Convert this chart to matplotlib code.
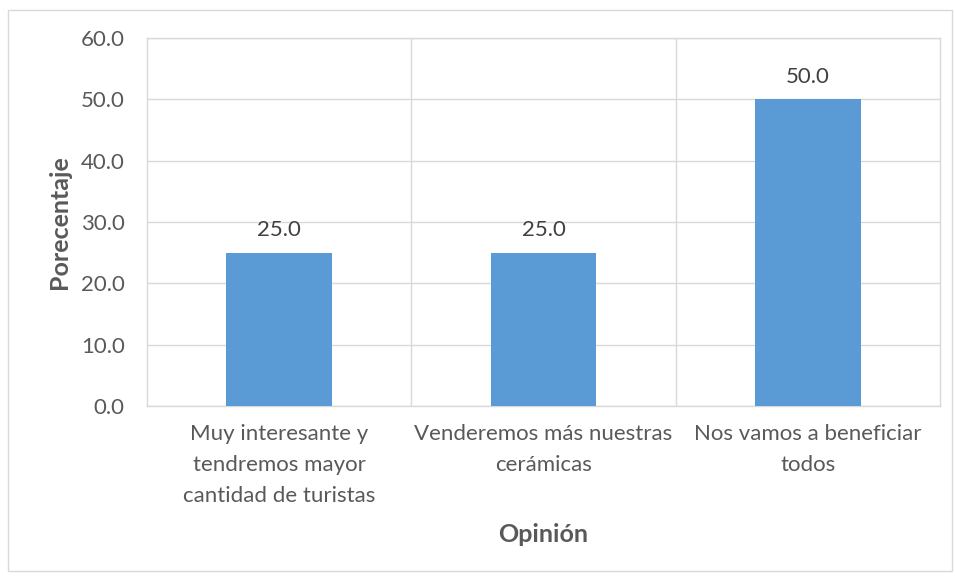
import matplotlib.pyplot as plt
from matplotlib.patches import Rectangle

# Survey answers and their share (%)
categorias = ["Muy interesante y\ntendremos mayor\ncantidad de turistas",
              "Venderemos más nuestras\ncerámicas",
              "Nos vamos a beneficiar\ntodos"]
porcentajes = [25.0, 25.0, 50.0]
y_ticks = [0, 10, 20, 30, 40, 50, 60]

text_color = "#595959"
grid_color = "#D9D9D9"
bar_color = "#5B9BD5"

plt.rcParams['font.family'] = ['Lato', 'DejaVu Sans']

fig = plt.figure(figsize=(9.55, 5.76), dpi=100)
ax = fig.add_axes([0.1539, 0.2951, 0.8304, 0.6389])

x = list(range(len(categorias)))
bars = ax.bar(x, porcentajes, width=0.4, color=bar_color, zorder=3)

for rect, val in zip(bars, porcentajes):
    ax.annotate("%.1f" % val, (rect.get_x() + rect.get_width() / 2, rect.get_height()),
                xytext=(0, 9), textcoords="offset points", ha="center", va="bottom",
                fontsize=16, color="#404040")

ax.set_xlim(-0.5, len(categorias) - 0.5)
ax.set_ylim(0, 60)
ax.set_yticks(y_ticks)
ax.set_yticklabels(["%.1f" % t for t in y_ticks])
ax.set_xticks(x)
ax.set_xticklabels(categorias, linespacing=1.7)

# horizontal gridlines plus vertical dividers between categories
ax.grid(axis="y", color=grid_color, linewidth=1, zorder=0)
for b in [i + 0.5 for i in x[:-1]]:
    ax.axvline(b, color=grid_color, linewidth=1, zorder=0)

for side in ["top", "right", "left", "bottom"]:
    ax.spines[side].set_color(grid_color)
    ax.spines[side].set_linewidth(1)

ax.tick_params(axis="both", length=0, colors=text_color, labelsize=16)
ax.tick_params(axis="y", pad=16)
ax.tick_params(axis="x", pad=13)

ax.set_xlabel("Opinión", fontsize=18, fontweight="bold", color=text_color, labelpad=12)
ax.set_ylabel("Porecentaje", fontsize=18, fontweight="bold", color=text_color, labelpad=7)

# chart border
fig.patches.append(Rectangle((0.008, 0.008), 0.989, 0.974, transform=fig.transFigure,
                             fill=False, edgecolor=grid_color, linewidth=1))

fig.savefig("out.png", dpi=100)
